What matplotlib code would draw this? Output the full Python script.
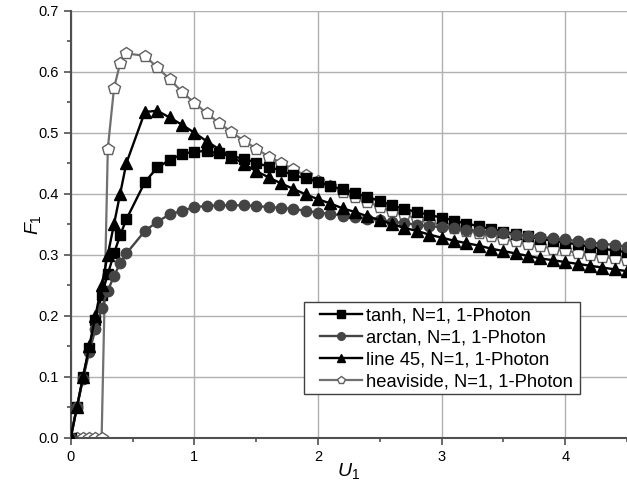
import matplotlib
matplotlib.use('Agg')
from matplotlib import pyplot as plt
from matplotlib.ticker import MultipleLocator
from matplotlib.patches import Rectangle
import numpy as np

plt.rcParams['font.family'] = ['Liberation Sans', 'DejaVu Sans']
plt.rcParams['mathtext.fontset'] = 'custom'
plt.rcParams['mathtext.rm'] = 'Liberation Sans'
plt.rcParams['mathtext.it'] = 'Liberation Sans:italic'

# U1 sample points
u1 = [0, 0.05, 0.1, 0.15, 0.2, 0.25, 0.3, 0.35, 0.4, 0.45,
      0.6, 0.7, 0.8, 0.9, 1.0, 1.1, 1.2, 1.3, 1.4, 1.5,
      1.6, 1.7, 1.8, 1.9, 2.0, 2.1, 2.2, 2.3, 2.4, 2.5,
      2.6, 2.7, 2.8, 2.9, 3.0, 3.1, 3.2, 3.3, 3.4, 3.5,
      3.6, 3.7, 3.8, 3.9, 4.0, 4.1, 4.2, 4.3, 4.4, 4.5]

f_tanh = [0, 0.05, 0.10, 0.147, 0.193, 0.234, 0.268, 0.302, 0.332, 0.358,
          0.419, 0.443, 0.455, 0.465, 0.469, 0.470, 0.466, 0.462, 0.457, 0.451,
          0.444, 0.438, 0.431, 0.425, 0.420, 0.413, 0.407, 0.401, 0.395, 0.388,
          0.381, 0.375, 0.370, 0.365, 0.361, 0.356, 0.351, 0.347, 0.342, 0.338,
          0.334, 0.330, 0.326, 0.323, 0.320, 0.317, 0.313, 0.310, 0.307, 0.304]

f_arctan = [0, 0.05, 0.097, 0.141, 0.178, 0.212, 0.241, 0.265, 0.286, 0.302,
            0.339, 0.354, 0.366, 0.372, 0.378, 0.380, 0.381, 0.381, 0.381, 0.380,
            0.378, 0.377, 0.375, 0.372, 0.369, 0.367, 0.364, 0.362, 0.359, 0.357,
            0.354, 0.352, 0.349, 0.347, 0.345, 0.343, 0.341, 0.339, 0.337, 0.335,
            0.333, 0.331, 0.329, 0.327, 0.325, 0.322, 0.320, 0.318, 0.316, 0.313]

f_line45 = [0, 0.05, 0.10, 0.15, 0.20, 0.25, 0.30, 0.35, 0.40, 0.45,
            0.534, 0.536, 0.525, 0.513, 0.500, 0.486, 0.473, 0.461, 0.449, 0.437,
            0.427, 0.417, 0.408, 0.399, 0.391, 0.384, 0.376, 0.370, 0.363, 0.357,
            0.350, 0.344, 0.339, 0.333, 0.328, 0.323, 0.319, 0.315, 0.310, 0.306,
            0.302, 0.298, 0.294, 0.291, 0.288, 0.285, 0.282, 0.279, 0.276, 0.273]

f_heaviside = [0, 0, 0, 0, 0, 0, 0.474, 0.573, 0.614, 0.630,
               0.626, 0.607, 0.588, 0.567, 0.549, 0.532, 0.516, 0.501, 0.487, 0.474,
               0.461, 0.451, 0.440, 0.430, 0.421, 0.412, 0.403, 0.395, 0.387, 0.379,
               0.372, 0.366, 0.359, 0.354, 0.348, 0.344, 0.339, 0.335, 0.330, 0.326,
               0.322, 0.318, 0.314, 0.310, 0.307, 0.303, 0.300, 0.297, 0.294, 0.291]

labels = ['tanh, N=1, 1-Photon', 'arctan, N=1, 1-Photon',
          'line 45, N=1, 1-Photon', 'heaviside, N=1, 1-Photon']

fig = plt.figure(figsize=(6.27, 4.87), dpi=100)
ax = fig.add_axes([0.1128, 0.1012, 0.8872, 0.8768])

h4, = ax.plot(u1, f_heaviside, color='#707070', lw=1.6, marker='p', ms=9,
              mfc='white', mec='#606060', mew=1.0, zorder=2)
h1, = ax.plot(u1, f_tanh, color='black', lw=1.7, marker='s', ms=6.5, zorder=3)
h2, = ax.plot(u1, f_arctan, color='#444444', lw=1.7, marker='o', ms=7.5, zorder=4)
h3, = ax.plot(u1, f_line45, color='black', lw=1.7, marker='^', ms=8, zorder=5)

ax.set_xlim(0, 4.5)
ax.set_ylim(0, 0.7)
ax.xaxis.set_major_locator(MultipleLocator(1))
ax.xaxis.set_minor_locator(MultipleLocator(0.5))
ax.yaxis.set_major_locator(MultipleLocator(0.1))
ax.yaxis.set_minor_locator(MultipleLocator(0.05))
ax.yaxis.set_major_formatter(plt.FormatStrFormatter('%.1f'))
ax.grid(True, which='major', color='#b0b0b0', lw=1.0)
ax.set_axisbelow(True)

for s in ['top', 'right']:
    ax.spines[s].set_visible(False)
for s in ['left', 'bottom']:
    ax.spines[s].set_color('#505050')
    ax.spines[s].set_linewidth(1.5)
ax.tick_params(which='major', direction='out', length=5, width=1.2,
               color='#505050', labelsize=10.5)
ax.tick_params(which='minor', direction='out', length=3, width=1.2,
               color='#505050')

ax.set_xlabel(r'$U_\mathrm{1}$', fontsize=14, labelpad=-2)
ax.set_ylabel(r'$F_\mathrm{1}$', fontsize=14, labelpad=-3)

# legend frame (Origin style, wider left margin than matplotlib's)
ax.add_patch(Rectangle((0.4194, 0.1023), 0.4961, 0.2155, transform=ax.transAxes,
                       facecolor='white', edgecolor='#404040', lw=1.0, zorder=9))
leg = ax.legend([h1, h2, h3, h4], labels, loc='upper left',
                bbox_to_anchor=(0.448, 0.305), fontsize=13.2, frameon=False,
                handlelength=2.3, handletextpad=0.2, labelspacing=0.27,
                borderpad=0, borderaxespad=0)
leg.set_zorder(10)
for line in leg.get_lines():
    line.set_markersize(5.5)

plt.savefig('out.png', dpi=100)
